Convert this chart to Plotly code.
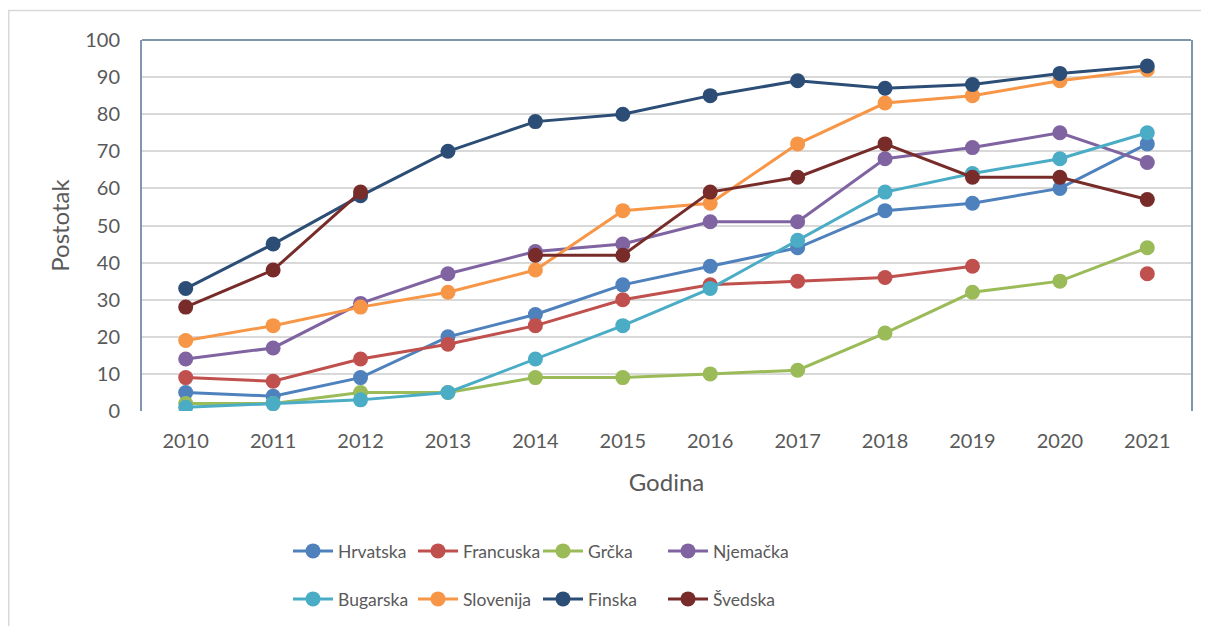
import plotly.graph_objects as go

years = ["2010", "2011", "2012", "2013", "2014", "2015", "2016", "2017", "2018", "2019", "2020", "2021"]

hrvatska = [5, 4, 9, 20, 26, 34, 39, 44, 54, 56, 60, 72]
francuska = [9, 8, 14, 18, 23, 30, 34, 35, 36, 39, None, 37]
grcka = [2, 2, 5, 5, 9, 9, 10, 11, 21, 32, 35, 44]
njemacka = [14, 17, 29, 37, 43, 45, 51, 51, 68, 71, 75, 67]
bugarska = [1, 2, 3, 5, 14, 23, 33, 46, 59, 64, 68, 75]
slovenija = [19, 23, 28, 32, 38, 54, 56, 72, 83, 85, 89, 92]
finska = [33, 45, 58, 70, 78, 80, 85, 89, 87, 88, 91, 93]
svedska = [28, 38, 59, None, 42, 42, 59, 63, 72, 63, 63, 57]

series = [
    ("Hrvatska", hrvatska, "#4F81BD", "legend"),
    ("Francuska", francuska, "#C0504D", "legend"),
    ("Grčka", grcka, "#9BBB59", "legend"),
    ("Njemačka", njemacka, "#8064A2", "legend"),
    ("Bugarska", bugarska, "#4BACC6", "legend2"),
    ("Slovenija", slovenija, "#F79646", "legend2"),
    ("Finska", finska, "#2C4D75", "legend2"),
    ("Švedska", svedska, "#772C2A", "legend2"),
]

FONT = "Lato"
TXT = "#595959"
W, H = 1201, 618  # page body has an 8px margin

fig = go.Figure()
for name, vals, color, lg in series:
    fig.add_trace(go.Scatter(
        x=years, y=vals, name=name, mode="lines+markers",
        line=dict(color=color, width=3),
        marker=dict(color=color, size=15),
        connectgaps=False, legend=lg,
    ))

legend_common = dict(
    orientation="h", xref="container", yref="container",
    xanchor="left", yanchor="middle",
    entrywidth=70, entrywidthmode="pixels",
    font=dict(family=FONT, size=17.5, color=TXT),
    bgcolor="rgba(0,0,0,0)", itemwidth=40,
    tracegroupgap=0,
)

fig.update_layout(
    width=W, height=H,
    margin=dict(l=134, r=18, t=32, b=215),
    paper_bgcolor="white", plot_bgcolor="white",
    font=dict(family=FONT, size=20, color=TXT),
    showlegend=True,
    legend=dict(x=280 / W, y=1 - 543 / H, **legend_common),
    legend2=dict(x=280 / W, y=1 - 591 / H, **legend_common),
    xaxis=dict(
        type="category", range=[-0.5, 11.5],
        showgrid=False, showline=False, zeroline=False,
        ticks="", ticklabelstandoff=16,
        tickfont=dict(family=FONT, size=20, color=TXT),
        title=dict(text="Godina", font=dict(family=FONT, size=24, color=TXT), standoff=23),
    ),
    yaxis=dict(
        range=[0, 100], dtick=10, tick0=0,
        showgrid=True, gridcolor="#D9D9D9", gridwidth=2,
        zeroline=False,
        showline=True, mirror=True, linecolor="#8095B0", linewidth=2,
        ticks="", ticklabelstandoff=16,
        tickfont=dict(family=FONT, size=20, color=TXT),
        title=dict(text="Postotak", font=dict(family=FONT, size=24, color=TXT), standoff=9),
    ),
    shapes=[
        dict(type="line", xref="x domain", yref="y domain", x0=0, x1=1, y0=1, y1=1,
             line=dict(color="#8095B0", width=2)),
        dict(type="rect", xref="paper", yref="paper",
             x0=(0.75 - 134) / 1049, x1=1.2, y0=(403 - 2.5) / 371, y1=-1.0,
             line=dict(color="#D9D9D9", width=1.5), layer="below"),
    ],
)

fig.write_html("out.html")
